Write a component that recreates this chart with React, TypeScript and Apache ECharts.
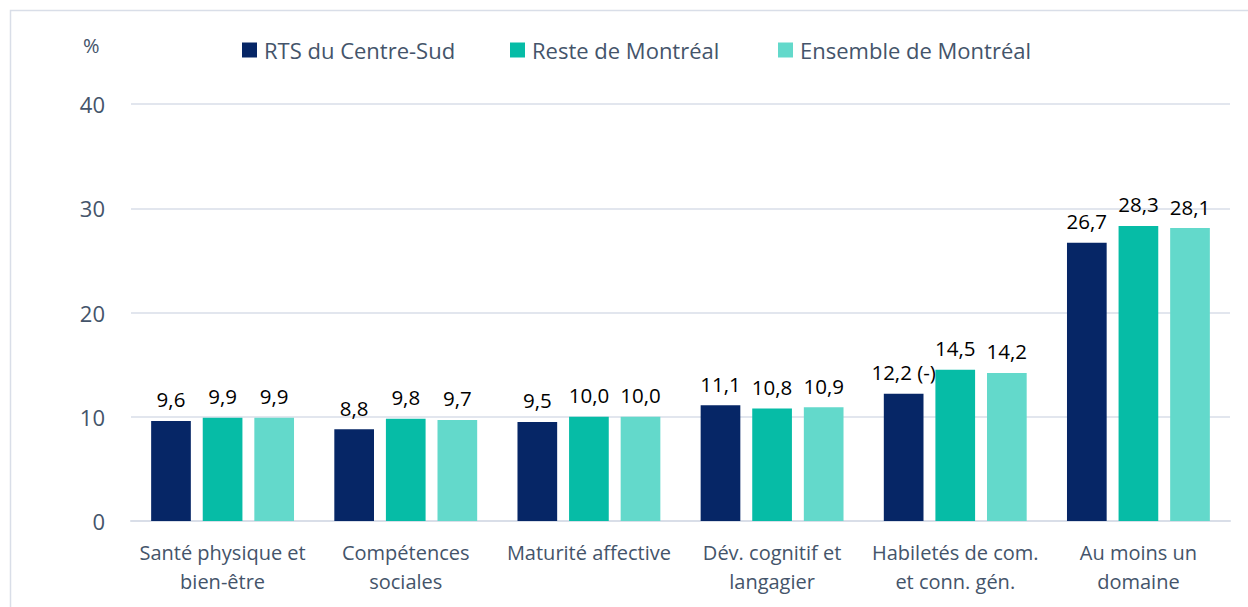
import React, { useEffect, useRef } from "react";
import * as echarts from "echarts";

const categories = [
  "Santé physique et\nbien-être",
  "Compétences\nsociales",
  "Maturité affective",
  "Dév. cognitif et\nlangagier",
  "Habiletés de com.\net conn. gén.",
  "Au moins un\ndomaine",
];
const seriesNames = ["RTS du Centre-Sud", "Reste de Montréal", "Ensemble de Montréal"];
const rtsValues = [9.6, 8.8, 9.5, 11.1, 12.2, 26.7];
const resteValues = [9.9, 9.8, 10.0, 10.8, 14.5, 28.3];
const ensembleValues = [9.9, 9.7, 10.0, 10.9, 14.2, 28.1];
const rtsSuffixes = ["", "", "", "", " (-)", ""];
const yTicks = [0, 10, 20, 30, 40];

const colors = ["#062666", "#06BCA6", "#63D9CB"];
const FONT = "'Open Sans', sans-serif";
const TEXT = "#44546A";

export default function App() {
  const ref = useRef<HTMLDivElement>(null);
  useEffect(() => {
    if (!ref.current) return;
    const chart = echarts.init(ref.current, null, { renderer: "svg" });
    const fmt = (v: number) => v.toFixed(1).replace(".", ",");
    const mk = (name: string, data: number[], color: string, suffixes?: string[]) => ({
      name,
      type: "bar",
      data,
      barGap: "30%",
      barCategoryGap: "22%",
      itemStyle: { color },
      label: {
        show: true,
        position: "top",
        distance: 11,
        color: "#000",
        fontSize: 20.5,
        fontFamily: FONT,
        formatter: (p: any) => fmt(p.value) + (suffixes ? suffixes[p.dataIndex] : ""),
      },
    });
    const legendLefts = [237, 505, 773];
    chart.setOption({
      animation: false,
      textStyle: { fontFamily: FONT },
      graphic: [
        {
          type: "rect",
          shape: { x: 10.5, y: 10.5, width: 1250, height: 610 },
          style: { fill: "none", stroke: "#D9DEE8", lineWidth: 1.5 },
          z: -1,
        },
        {
          type: "text",
          left: 83,
          top: 35,
          style: { text: "%", fontSize: 20, fill: TEXT, fontFamily: FONT },
        },
      ],
      legend: seriesNames.map((n, i) => ({
        data: [n],
        top: 34,
        left: legendLefts[i],
        itemWidth: 15,
        itemHeight: 15,
        icon: "rect",
        textStyle: { fontSize: 22, color: TEXT, fontFamily: FONT, padding: [0, 0, 0, 2] },
      })),
      grid: { left: 131, right: 18, top: 104, bottom: 86, containLabel: false },
      xAxis: {
        type: "category",
        data: categories,
        axisLine: { lineStyle: { color: "#D9DEE8", width: 2 } },
        axisTick: { show: false },
        axisLabel: {
          color: TEXT,
          fontSize: 20,
          fontFamily: FONT,
          lineHeight: 29,
          margin: 17,
          interval: 0,
        },
      },
      yAxis: {
        type: "value",
        min: yTicks[0],
        max: yTicks[yTicks.length - 1],
        interval: 10,
        axisLine: { show: false },
        axisTick: { show: false },
        splitLine: { lineStyle: { color: "#D9DEE8", width: 1.5 } },
        axisLabel: { color: TEXT, fontSize: 22, fontFamily: FONT, margin: 26 },
      },
      series: [
        mk(seriesNames[0], rtsValues, colors[0], rtsSuffixes),
        mk(seriesNames[1], resteValues, colors[1]),
        mk(seriesNames[2], ensembleValues, colors[2]),
      ],
    });
    return () => chart.dispose();
  }, []);
  return (
    <div
      ref={ref}
      style={{ position: "fixed", left: 0, top: 0, width: 1248, height: 607, background: "#fff" }}
    />
  );
}
